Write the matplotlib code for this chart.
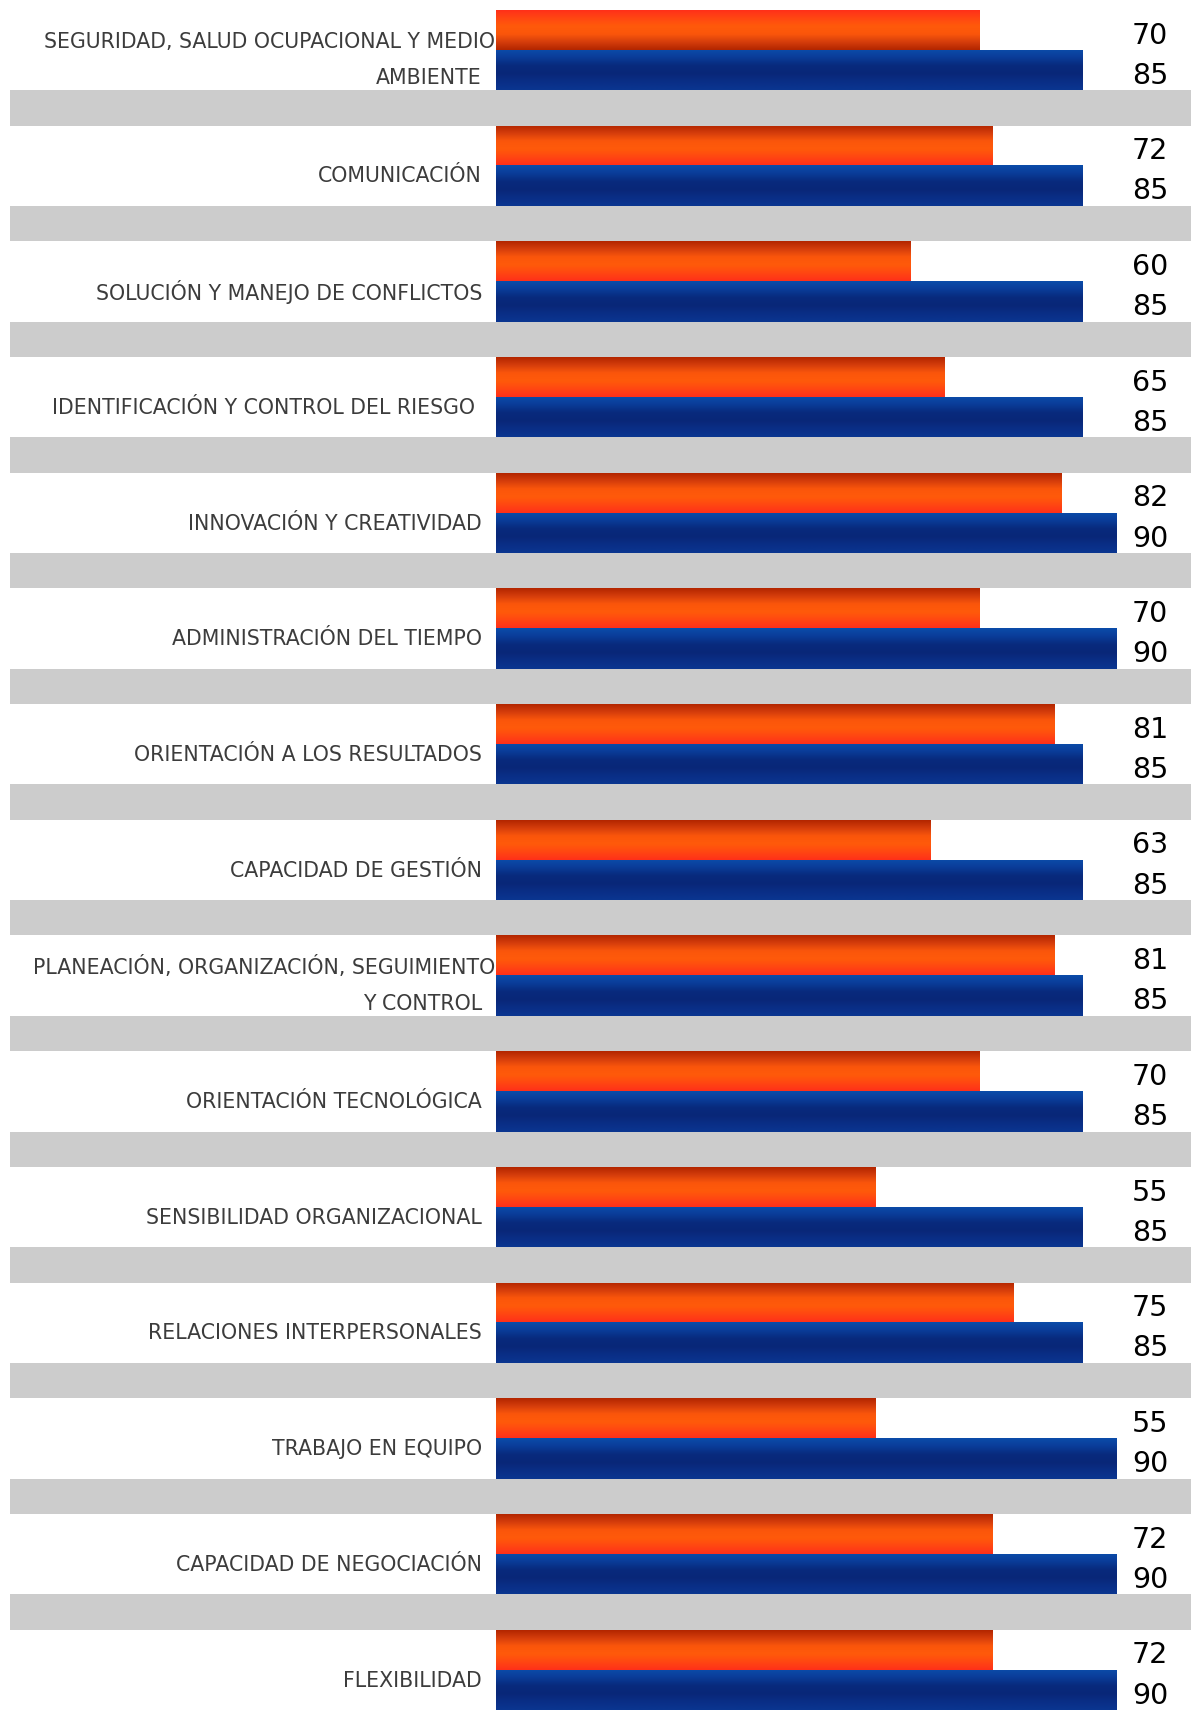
import numpy as np
import matplotlib
matplotlib.use("Agg")
import matplotlib.pyplot as plt
from matplotlib.colors import LinearSegmentedColormap

competencias = [
    "SEGURIDAD, SALUD OCUPACIONAL Y MEDIO\nAMBIENTE",
    "COMUNICACIÓN",
    "SOLUCIÓN Y MANEJO DE CONFLICTOS",
    "IDENTIFICACIÓN Y CONTROL DEL RIESGO ",
    "INNOVACIÓN Y CREATIVIDAD",
    "ADMINISTRACIÓN DEL TIEMPO",
    "ORIENTACIÓN A LOS RESULTADOS",
    "CAPACIDAD DE GESTIÓN",
    "PLANEACIÓN, ORGANIZACIÓN, SEGUIMIENTO\nY CONTROL",
    "ORIENTACIÓN TECNOLÓGICA",
    "SENSIBILIDAD ORGANIZACIONAL",
    "RELACIONES INTERPERSONALES",
    "TRABAJO EN EQUIPO",
    "CAPACIDAD DE NEGOCIACIÓN",
    "FLEXIBILIDAD",
]
obtenido = [70, 72, 60, 65, 82, 70, 81, 63, 81, 70, 55, 75, 55, 72, 72]
esperado = [85, 85, 85, 85, 90, 90, 85, 85, 85, 85, 85, 85, 90, 90, 90]

W, H = 1191, 1714
fig = plt.figure(figsize=(W / 100, H / 100), dpi=100)
ax = fig.add_axes([0, 0, 1, 1])
ax.axis("off")

# horizontal scale: bars start 496 px in, 6.9 px per point
x0_px, k = 496, 6.9
xlim = (-x0_px / k, (W - x0_px) / k)
# vertical scale: one unit per competence row
period = 115.7
ylim = (H / period, 0)

h_or, h_bl, h_gr = 0.345, 0.35, 0.305
top0 = 0.085

cmap_or = LinearSegmentedColormap.from_list(
    "or", ["#b32600", "#d63e0c", "#fb560b", "#ff5a0a", "#ff4712", "#ff3019"])
cmap_bl = LinearSegmentedColormap.from_list(
    "bl", ["#0b4ca9", "#0a3c98", "#082a7d", "#092778", "#0a2e86", "#0a3690"])
grad = np.linspace(0, 1, 64).reshape(-1, 1)

tops = np.arange(len(competencias)) + top0

bars_or = ax.barh(tops, obtenido, height=h_or, align="edge", color="#ff5a0a", lw=0)
bars_bl = ax.barh(tops + h_or, esperado, height=h_bl, align="edge", color="#082a7d", lw=0)

lab_kw = dict(ha="right", va="center", fontsize=14.8, color="#3c3c3c", zorder=3)
val_kw = dict(ha="center", va="center", fontsize=20.5, color="black", zorder=3)
xv = (1150 - x0_px) / k

for i, (bo, bb) in enumerate(zip(bars_or, bars_bl)):
    g = grad[::-1] if i == 0 else grad
    for bar, cmap, gg in ((bo, cmap_or, g), (bb, cmap_bl, grad)):
        x, y = bar.get_x(), bar.get_y()
        im = ax.imshow(gg, cmap=cmap, aspect="auto", origin="upper",
                       extent=(x, x + bar.get_width(), y + bar.get_height(), y),
                       interpolation="bicubic", zorder=2)
        im.set_clip_path(bar)

    # gray separator band under each pair of bars (last one falls off the page)
    if i < len(competencias) - 1:
        yb = tops[i] + h_or + h_bl
        ax.axhspan(yb, yb + h_gr, xmin=10 / W, xmax=1, color="#cccccc", lw=0, zorder=1)

    # category label, right aligned against the bars
    lines = competencias[i].split("\n")
    yc = tops[i] + h_or
    if len(lines) == 1:
        ax.text(-14 / k, yc + 0.095, lines[0], **lab_kw)
    else:
        ax.text(-1 / k, yc - 0.07, lines[0], **lab_kw)
        ax.text(-14 / k, yc + 0.245, lines[1], **lab_kw)

    # values in a column on the right
    ax.text(xv, tops[i] + h_or / 2 + 0.05, str(obtenido[i]), **val_kw)
    ax.text(xv, tops[i] + h_or + h_bl / 2 + 0.05, str(esperado[i]), **val_kw)

ax.set_xlim(*xlim)
ax.set_ylim(*ylim)

fig.savefig("out.png", dpi=100, facecolor="white")
